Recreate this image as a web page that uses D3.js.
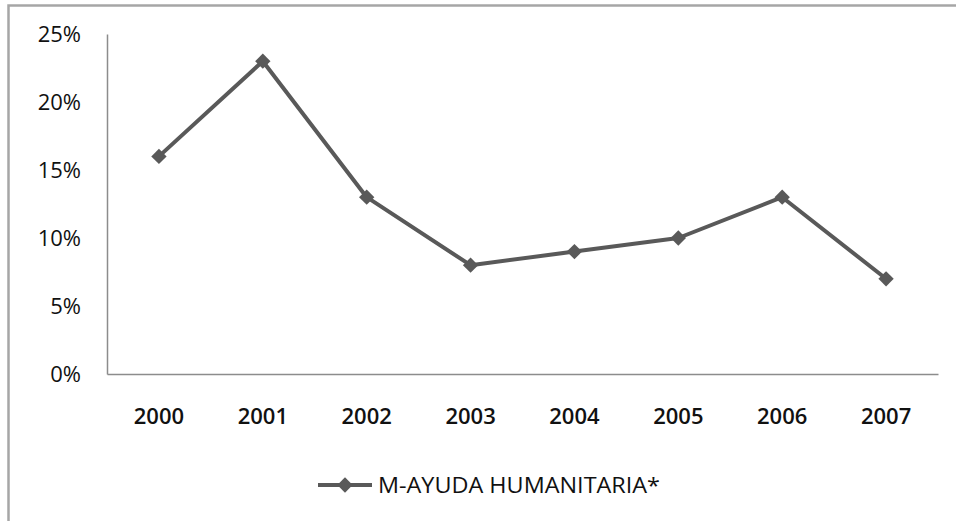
<!DOCTYPE html>
<html><head><meta charset="utf-8">
<script src="https://cdn.jsdelivr.net/npm/d3@7"></script>
<style>
html,body{margin:0;padding:0;background:#fff;}
svg text{font-family:"Open Sans","Liberation Sans",sans-serif;fill:#111;}
</style></head>
<body>
<svg id="chart" width="956" height="521"></svg>
<script>
const years = ["2000","2001","2002","2003","2004","2005","2006","2007"];
const values = [16, 23, 13, 8, 9, 10, 13, 7];
const yTicks = [0, 5, 10, 15, 20, 25];
const seriesName = "M-AYUDA HUMANITARIA*";

(function(){
const svg = d3.select("#chart");
const color = "#595959";
svg.append("path").attr("d","M8.5,521 L8.5,5.5 L956,5.5")
  .attr("fill","none").attr("stroke","#a6a6a6").attr("stroke-width",2.5);

const pLeft = 107, pRight = 938, pTop = 34, pBottom = 374;
const x = d3.scaleBand().domain(years).range([pLeft, pRight]);
const y = d3.scaleLinear().domain([0, 25]).range([pBottom, pTop]);

const yAxis = svg.append("g").attr("transform",`translate(${pLeft},0)`)
  .call(d3.axisLeft(y).tickValues(yTicks).tickSize(0).tickPadding(26).tickFormat(d => d + "%"));
yAxis.select(".domain").attr("stroke","#8c8c8c").attr("stroke-width",1.5);
yAxis.selectAll("text").attr("font-size",22).style("fill","#111");

const xAxis = svg.append("g").attr("transform",`translate(0,${pBottom})`)
  .call(d3.axisBottom(x).tickSize(0).tickPadding(34));
xAxis.select(".domain").attr("stroke","#8c8c8c").attr("stroke-width",1.5);
xAxis.selectAll("text").attr("font-size",22).attr("font-weight",600).style("fill","#111");

const cx = d => x(d) + x.bandwidth()/2;
const line = d3.line().x((d,i) => cx(years[i])).y(d => y(d));
svg.append("path").datum(values).attr("d", line)
  .attr("fill","none").attr("stroke",color).attr("stroke-width",4).attr("stroke-linejoin","round");

const diamond = d3.symbol().type(d3.symbolDiamond2).size(150);
svg.selectAll(".pt").data(values).enter().append("path")
  .attr("transform",(d,i) => `translate(${cx(years[i])},${y(d)})`)
  .attr("d", diamond).attr("fill",color);

const lg = svg.append("g").attr("transform","translate(318,485)");
lg.append("line").attr("x1",0).attr("x2",54).attr("y1",0).attr("y2",0)
  .attr("stroke",color).attr("stroke-width",4);
lg.append("path").attr("transform","translate(27,0)").attr("d",diamond).attr("fill",color);
lg.append("text").attr("x",60).attr("y",0).attr("dy","0.35em")
  .attr("font-size",22).attr("textLength",282).attr("lengthAdjust","spacingAndGlyphs").text(seriesName);
})();
</script>
</body></html>
